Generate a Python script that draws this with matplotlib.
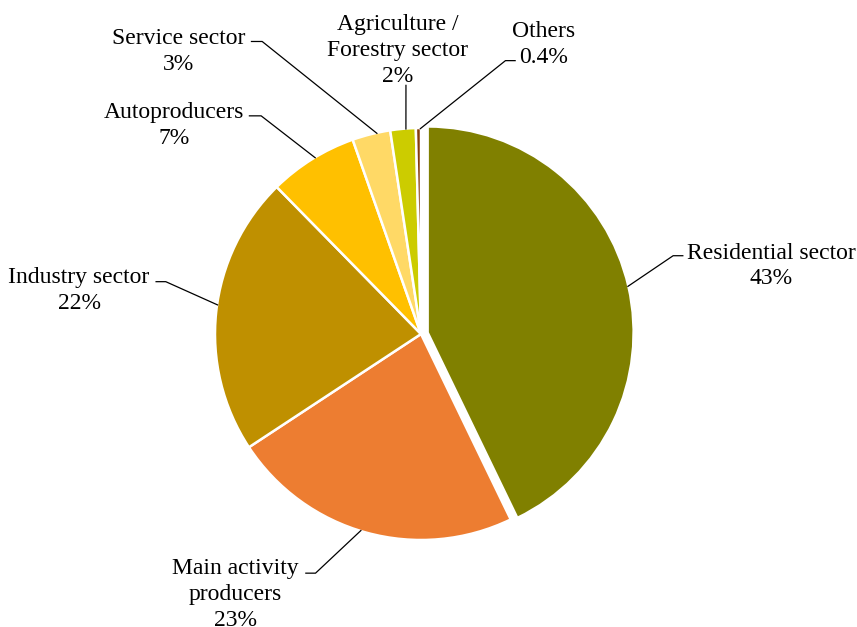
import numpy as np
import matplotlib.pyplot as plt

# Final energy consumption shares by sector
sectors = ['Residential sector', 'Main activity\nproducers', 'Industry sector',
           'Autoproducers', 'Service sector', 'Agriculture /\nForestry sector', 'Others']
shares = [43, 23, 22, 7, 3, 2, 0.4]
share_labels = ['43%', '23%', '22%', '7%', '3%', '2%', '0.4%']

colors = ['#808000', '#ED7D31', '#BF9000', '#FFC000', '#FFD966', '#CCCC00', '#843C0C']
explode = [0.033, 0, 0, 0, 0, 0, 0]

# label centres, leader elbows and which side the stub points to (pie radius = 1)
text_pos = [(1.70, 0.33), (-0.90, -1.265), (-1.66, 0.21), (-1.20, 1.012),
            (-1.176, 1.372), (-0.112, 1.375), (0.595, 1.406)]
elbows = [(1.224, 0.380), (-0.512, -1.161), (-1.239, 0.254), (-0.776, 1.059),
          (-0.771, 1.420), (-0.073, 1.210), (0.410, 1.327)]
stub = [0.05, -0.05, -0.05, -0.06, -0.055, 0, 0.05]
angle_nudge = [0, -1.5, -2, -1, -1.7, -0.8, -0.4]

W, H = 857, 627
cx, cy, R = 421, 334, 206

fig = plt.figure(figsize=(W / 100, H / 100), dpi=100)
ax = fig.add_axes([0, 0, 1, 1])

wedges, _ = ax.pie(shares, colors=colors, explode=explode, startangle=90,
                   counterclock=False, radius=1,
                   wedgeprops=dict(edgecolor='white', linewidth=1.8))

for i, w in enumerate(wedges):
    mid = np.deg2rad((w.theta1 + w.theta2) / 2 + angle_nudge[i])
    ox, oy = w.center
    anchor = (ox + 0.995 * np.cos(mid), oy + 0.995 * np.sin(mid))
    ex, ey = elbows[i]
    ax.plot([ex + stub[i], ex, anchor[0]], [ey, ey, anchor[1]],
            color='black', linewidth=0.9, solid_capstyle='butt')
    ax.text(text_pos[i][0], text_pos[i][1], sectors[i] + '\n' + share_labels[i],
            ha='center', va='center', fontsize=17, linespacing=1.3,
            family='Liberation Serif', color='black')

ax.set_xlim(-cx / R, (W - cx) / R)
ax.set_ylim(-(H - cy) / R, cy / R)
ax.set_aspect('equal')
ax.axis('off')

fig.savefig('out.png', dpi=100, facecolor='white')
